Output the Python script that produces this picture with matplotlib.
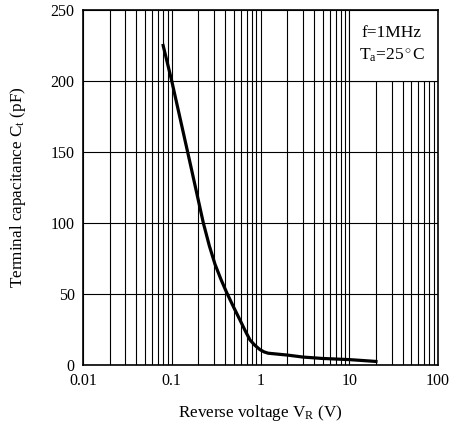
import matplotlib
matplotlib.use("Agg")
import matplotlib.pyplot as plt
from matplotlib.patches import Rectangle
from matplotlib.ticker import LogLocator, FixedLocator, NullFormatter
import numpy as np

# curve
vr = [0.08, 0.1, 0.151, 0.168, 0.227, 0.265, 0.307, 0.36, 0.416, 0.5, 0.587, 0.68, 0.762, 0.867, 0.987, 1.1, 1.22, 2.0, 3.0, 5.0, 10.0, 20.0]
ct = [225, 200, 150, 137, 100, 84, 71, 60, 51, 40.5, 31.7, 23.5, 17.6, 13.8, 10.8, 9.2, 8.3, 7.0, 5.6, 4.6, 3.8, 2.5]

x_ticks = [0.01, 0.1, 1, 10, 100]
x_tick_labels = ["0.01", "0.1", "1", "10", "100"]
y_ticks = [0, 50, 100, 150, 200, 250]

plt.rcParams["font.family"] = ["Liberation Serif", "DejaVu Serif"]
plt.rcParams["mathtext.fontset"] = "custom"
plt.rcParams["mathtext.rm"] = "Liberation Serif"
plt.rcParams["mathtext.it"] = "Liberation Serif:italic"

fig = plt.figure(figsize=(4.51, 4.25), dpi=100)
ax = fig.add_axes([83 / 451, 1 - 365 / 425, 355 / 451, 355 / 425])

ax.set_xscale("log")
ax.set_xlim(0.01, 100)
ax.set_ylim(0, 250)

ax.xaxis.set_major_locator(FixedLocator(x_ticks))
ax.set_xticklabels(x_tick_labels)
ax.xaxis.set_minor_locator(LogLocator(base=10, subs=np.arange(2, 10)))
ax.xaxis.set_minor_formatter(NullFormatter())
ax.set_yticks(y_ticks)

ax.grid(True, which="both", axis="x", color="black", linewidth=0.8)
ax.grid(True, which="major", axis="y", color="black", linewidth=0.8)
ax.set_axisbelow(True)
ax.tick_params(which="both", length=0, labelsize=11.5, pad=6)
for s in ax.spines.values():
    s.set_linewidth(1.2)

ax.plot(vr, ct, color="black", linewidth=2.3, zorder=3, solid_joinstyle="round")

# condition box in the upper right
ax.add_patch(Rectangle((10, 200), 90, 50, facecolor="white", edgecolor="black",
                       linewidth=0.8, zorder=2))
ax.text(0.87, 0.935, "f=1MHz", transform=ax.transAxes, ha="center", va="center", fontsize=12.5, zorder=4)
ax.text(0.87, 0.872, "T$_\\mathrm{a}$=25$^\\circ$C", transform=ax.transAxes, ha="center", va="center",
        fontsize=12.5, zorder=4)

ax.set_xlabel("Reverse voltage V$_\\mathrm{R}$ (V)", fontsize=12.3, labelpad=10)
ax.set_ylabel("Terminal capacitance C$_\\mathrm{t}$ (pF)", fontsize=12.3, labelpad=16)

fig.savefig("out.png", dpi=100)
